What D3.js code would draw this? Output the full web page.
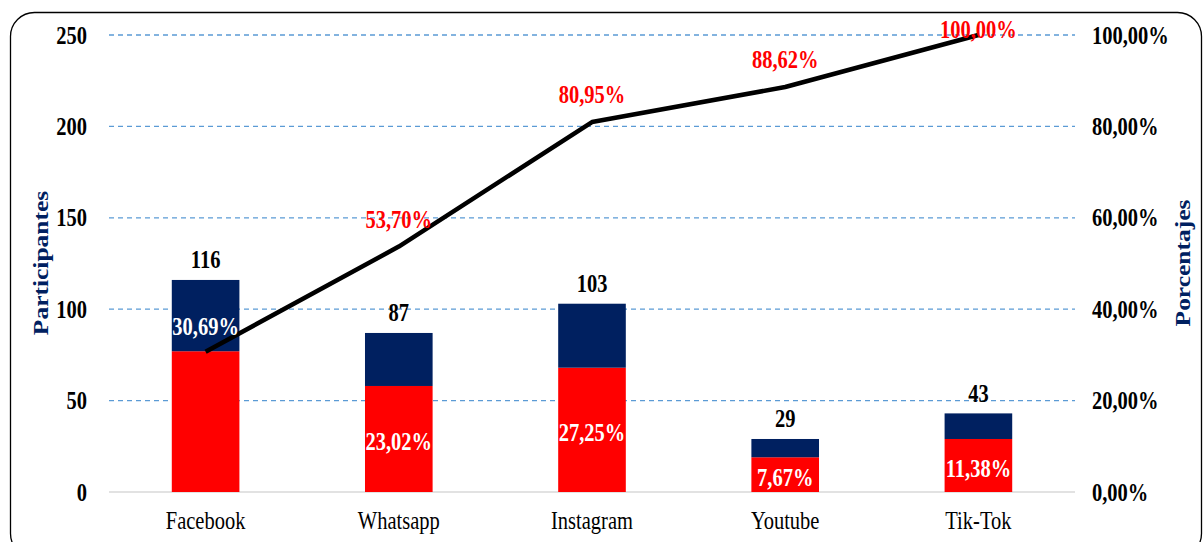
<!DOCTYPE html>
<html>
<head>
<meta charset="utf-8">
<script src="https://cdn.jsdelivr.net/npm/d3@7"></script>
<style>
  html, body { margin: 0; padding: 0; background: #fff; }
  svg { display: block; }
  text { font-family: "Liberation Serif", "Times New Roman", serif; }
</style>
</head>
<body>
<svg id="chart" width="1204" height="542"></svg>
<script>
// ---- data ----
const categories = ["Facebook", "Whatsapp", "Instagram", "Youtube", "Tik-Tok"];
const totals = [116, 87, 103, 29, 43];
const redPart = [77, 58, 68, 19, 29];
const navyPart = [39, 29, 35, 10, 14];
const pctLabels = ["30,69%", "23,02%", "27,25%", "7,67%", "11,38%"];
const cumulative = [30.69, 53.70, 80.95, 88.62, 100.00];
const cumLabels = ["30,69%", "53,70%", "80,95%", "88,62%", "100,00%"];
const leftTicks = [0, 50, 100, 150, 200, 250];
const rightTicks = [0, 20, 40, 60, 80, 100];
const rightTickLabels = ["0,00%", "20,00%", "40,00%", "60,00%", "80,00%", "100,00%"];

// ---- layout ----
const svg = d3.select("#chart");
const plotLeft = 109, plotRight = 1075, plotTop = 35, plotBottom = 492;
const navy = "#002060", red = "#FF0000";
const FS = 25, SX = 0.82; // font size and horizontal condensation

// frame
svg.append("rect")
  .attr("x", 10.5).attr("y", 12.5)
  .attr("width", 1191).attr("height", 545)
  .attr("rx", 24).attr("ry", 24)
  .attr("fill", "none").attr("stroke", "#000").attr("stroke-width", 1.3);

const x = d3.scaleBand().domain(categories).range([plotLeft, plotRight])
  .paddingInner(0.65).paddingOuter(0.325);
const y = d3.scaleLinear().domain([0, 250]).range([plotBottom, plotTop]);
const y2 = d3.scaleLinear().domain([0, 100]).range([plotBottom, plotTop]);

// gridlines
const grid = svg.append("g");
grid.selectAll("line.g").data(leftTicks.filter(d => d > 0)).join("line")
  .attr("x1", plotLeft).attr("x2", plotRight)
  .attr("y1", d => y(d)).attr("y2", d => y(d))
  .attr("stroke", "#5B9BD5").attr("stroke-width", 1.3)
  .attr("stroke-dasharray", "5,4");
grid.append("line")
  .attr("x1", plotLeft).attr("x2", plotRight)
  .attr("y1", y(0)).attr("y2", y(0))
  .attr("stroke", "#D9D9D9").attr("stroke-width", 1.3);

function styleTicks(g, bold) {
  g.select(".domain").remove();
  g.selectAll("text").attr("font-size", FS).attr("font-weight", bold ? "bold" : "normal")
    .attr("fill", "#000").attr("font-family", "Liberation Serif, serif")
    .attr("transform", `scale(${SX},1)`);
}

// left axis
const leftAxis = d3.axisLeft(y).tickValues(leftTicks).tickSize(0).tickPadding(0).tickFormat(d3.format("d"));
const gL = svg.append("g").attr("transform", `translate(87,0)`).call(leftAxis);
styleTicks(gL, true);

// right axis
const rightAxis = d3.axisRight(y2).tickValues(rightTicks).tickSize(0).tickPadding(0)
  .tickFormat((d, i) => rightTickLabels[i]);
const gR = svg.append("g").attr("transform", `translate(1092,0)`).call(rightAxis);
styleTicks(gR, true);

// x axis labels
const xAxis = d3.axisBottom(x).tickSize(0).tickPadding(0);
const gX = svg.append("g").attr("transform", `translate(0,${plotBottom + 19})`).call(xAxis);
styleTicks(gX, false);

// axis titles
svg.append("text").attr("transform", `translate(48,263) scale(${SX},1) rotate(-90)`)
  .attr("text-anchor", "middle").attr("font-size", 25.5).attr("font-weight", "bold")
  .attr("fill", navy).text("Participantes");
svg.append("text").attr("transform", `translate(1190,263) scale(${SX},1) rotate(-90)`)
  .attr("text-anchor", "middle").attr("font-size", 25.5).attr("font-weight", "bold")
  .attr("fill", navy).text("Porcentajes");

// bars
const rows = categories.map((c, i) => ({ c, i, red: redPart[i], navy: navyPart[i], total: totals[i] }));
const bars = svg.append("g");
bars.selectAll("rect.red").data(rows).join("rect")
  .attr("x", d => x(d.c)).attr("width", x.bandwidth())
  .attr("y", d => y(d.red)).attr("height", d => y(0) - y(d.red))
  .attr("fill", red);
bars.selectAll("rect.navy").data(rows).join("rect")
  .attr("x", d => x(d.c)).attr("width", x.bandwidth())
  .attr("y", d => y(d.red + d.navy)).attr("height", d => y(d.red) - y(d.red + d.navy))
  .attr("fill", navy);

function label(g, data, fx, fy, txt, color) {
  g.selectAll("text").data(data).join("text")
    .attr("transform", d => `translate(${fx(d)},${fy(d)}) scale(${SX},1)`)
    .attr("text-anchor", "middle").attr("dominant-baseline", "central")
    .attr("font-size", FS).attr("font-weight", "bold").attr("fill", color)
    .text(txt);
}
const cx = d => x(d.c) + x.bandwidth() / 2;

// total labels
label(svg.append("g"), rows, cx, d => y(d.total) - 20, d => d.total, "#000");

// line
const linePts = categories.map((c, i) => [x(c) + x.bandwidth() / 2, y2(cumulative[i])]);
svg.append("path").datum(linePts)
  .attr("d", d3.line())
  .attr("fill", "none").attr("stroke", "#000").attr("stroke-width", 4.5)
  .attr("stroke-linejoin", "round");

// white percentage labels
label(svg.append("g"), rows, cx,
  d => d.i === 0 ? y2(cumulative[0]) - 25 : (y(0) + y(d.red)) / 2 + 3,
  d => pctLabels[d.i], "#fff");

// red cumulative labels (first one shown in bar)
label(svg.append("g"), rows.filter(d => d.i > 0), cx,
  d => Math.max(30, y2(cumulative[d.i]) - 27),
  d => cumLabels[d.i], red);
</script>
</body>
</html>
